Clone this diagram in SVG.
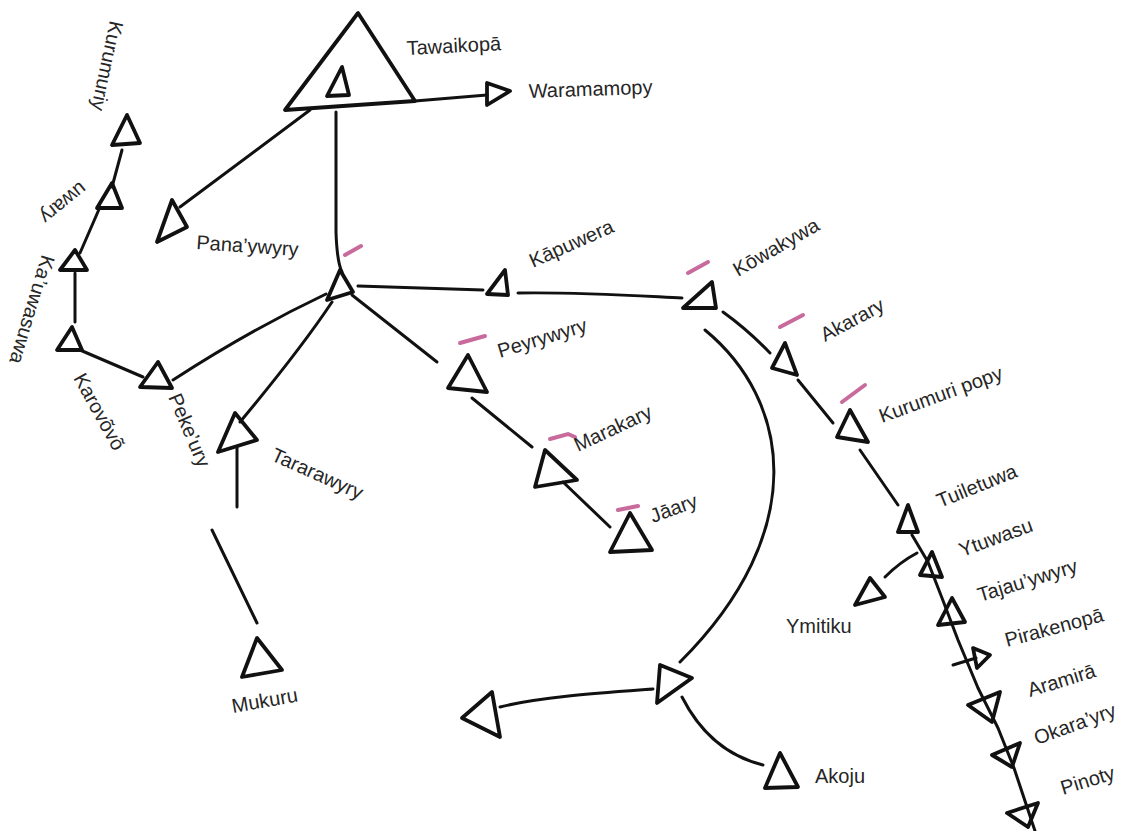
<svg xmlns="http://www.w3.org/2000/svg" width="1131" height="831" viewBox="0 0 1131 831">
<style>
.tri{fill:none;stroke:#111;stroke-width:3.8;stroke-linejoin:round;stroke-linecap:round}
.ln{fill:none;stroke:#111;stroke-width:3;stroke-linecap:round;stroke-linejoin:round}
.mk{fill:none;stroke:#c0508c;stroke-width:4;stroke-linecap:round;opacity:0.85}
text{font-family:"Liberation Sans",Arial,sans-serif;font-size:20px;fill:#262626}
</style>
<rect width="1131" height="831" fill="#ffffff"/>
<g id="connectors">
<path class="ln" d="M415,101 L487,95"/>
<path class="ln" d="M310,110 L180,207"/>
<path class="ln" d="M336,112 L336,232 Q337,262 342,272"/>
<path class="ln" d="M358,286 L483,290"/>
<path class="ln" d="M518,293 C580,292 640,296 682,298"/>
<path class="ln" d="M723,312 Q748,330 770,353"/>
<path class="ln" d="M798,380 L833,423"/>
<path class="ln" d="M860,450 L898,505"/>
<path class="ln" d="M912,535 L928,562 L942,598 L958,640 L978,688 L998,728 L1014,768 L1028,810 L1035,831"/>
<path class="ln" d="M917,553 Q900,562 885,577"/>
<path class="ln" d="M953,665 L976,658"/>
<path class="ln" d="M705,330 C790,400 812,530 680,662"/>
<path class="ln" d="M653,689 C600,693 540,697 500,707"/>
<path class="ln" d="M682,697 Q710,752 763,765"/>
<path class="ln" d="M352,295 L437,362"/>
<path class="ln" d="M472,398 L532,447"/>
<path class="ln" d="M563,482 L610,527"/>
<path class="ln" d="M332,302 Q300,350 240,422"/>
<path class="ln" d="M237,447 L237,507"/>
<path class="ln" d="M212,530 L257,623"/>
<path class="ln" d="M326,294 Q250,330 173,380"/>
<path class="ln" d="M143,377 L80,350"/>
<path class="ln" d="M75,322 L75,273"/>
<path class="ln" d="M80,253 L100,207"/>
<path class="ln" d="M112,187 L122,150"/>
</g>
<g id="marks">
<path class="mk" d="M345,255 L361,246"/>
<path class="mk" d="M460,343 L485,336"/>
<path class="mk" d="M550,439 L568,434 L575,437"/>
<path class="mk" d="M618,510 L638,506"/>
<path class="mk" d="M688,273 L708,262"/>
<path class="mk" d="M780,327 L803,315"/>
<path class="mk" d="M842,402 L865,385"/>
</g>
<g id="tawaikopa"><polygon class="tri" points="358,13 285,110 415,101"/><polygon class="tri" points="342,67 327,96 349,95"/><text transform="translate(407,55) rotate(-3)">Tawaikopā</text></g>
<g id="waramamopy"><polygon class="tri" points="487,83 487,105 510,91"/><text transform="translate(529,98) rotate(-2)">Waramamopy</text></g>
<g id="panaywyry"><polygon class="tri" points="157,242 172,200 187,227"/><text transform="translate(196,249) rotate(4)">Pana’ywyry</text></g>
<g id="center"><polygon class="tri" points="340,270 327,300 353,292"/></g>
<g id="kapuwera"><polygon class="tri" points="487,294 505,270 508,295"/><text transform="translate(533,268) rotate(-24)">Kāpuwera</text></g>
<g id="kowakywa"><polygon class="tri" points="683,308 712,282 716,308"/><text transform="translate(738,277) rotate(-30)">Kōwakywa</text></g>
<g id="akarary"><polygon class="tri" points="785,343 772,368 797,375"/><text transform="translate(825,342) rotate(-28)">Akarary</text></g>
<g id="kurumuripopy"><polygon class="tri" points="850,410 837,437 868,442"/><text transform="translate(882,423) rotate(-20)">Kurumuri popy</text></g>
<g id="tuiletuwa"><polygon class="tri" points="908,505 898,532 918,532"/><text transform="translate(940,508) rotate(-22)">Tuiletuwa</text></g>
<g id="ytuwasu"><polygon class="tri" points="932,552 920,575 942,577"/><text transform="translate(962,557) rotate(-20)">Ytuwasu</text></g>
<g id="ymitiku"><polygon class="tri" points="855,605 870,578 885,597"/><text x="786" y="633">Ymitiku</text></g>
<g id="tajauywyry"><polygon class="tri" points="952,598 938,625 965,622"/><text transform="translate(980,602) rotate(-17)">Tajau’ywyry</text></g>
<g id="pirakenopa"><polygon class="tri" points="973,648 990,655 977,668"/><text transform="translate(1007,647) rotate(-15)">Pirakenopā</text></g>
<g id="aramira"><polygon class="tri" points="968,705 1000,692 992,722"/><text transform="translate(1030,697) rotate(-17)">Aramirā</text></g>
<g id="okarayry"><polygon class="tri" points="992,755 1020,743 1012,767"/><text transform="translate(1037,745) rotate(-20)">Okara’yry</text></g>
<g id="pinoty"><polygon class="tri" points="1007,813 1038,803 1028,827"/><text transform="translate(1063,795) rotate(-17)">Pinoty</text></g>
<g id="akoju"><polygon class="tri" points="780,753 765,788 798,787"/><text x="815" y="783">Akoju</text></g>
<g id="hub"><polygon class="tri" points="660,665 692,678 657,703"/></g>
<g id="west"><polygon class="tri" points="462,718 492,692 500,737"/></g>
<g id="peyrywyry"><polygon class="tri" points="468,355 448,388 487,392"/><text transform="translate(500,358) rotate(-17)">Peyrywyry</text></g>
<g id="marakary"><polygon class="tri" points="545,450 535,487 577,480"/><text transform="translate(578,452) rotate(-25)">Marakary</text></g>
<g id="jaary"><polygon class="tri" points="630,513 610,552 652,550"/><text transform="translate(653,523) rotate(-20)">Jāary</text></g>
<g id="tararawyry"><polygon class="tri" points="235,413 218,452 257,440"/><text transform="translate(270,460) rotate(24)">Tararawyry</text></g>
<g id="mukuru"><polygon class="tri" points="257,638 242,677 282,670"/><text transform="translate(233,713) rotate(-10)">Mukuru</text></g>
<g id="pekeury"><polygon class="tri" points="158,362 140,387 172,388"/><text transform="translate(168,397) rotate(67)">Peke’ury</text></g>
<g id="karovovo"><polygon class="tri" points="72,327 57,350 82,350"/><text transform="translate(73,378) rotate(61)">Karovõvõ</text></g>
<g id="kauwasuwa"><polygon class="tri" points="75,250 60,270 87,270"/><text transform="translate(42,254) rotate(107)">Ka’uwasuwa</text></g>
<g id="uwary"><polygon class="tri" points="112,183 97,208 122,208"/><text transform="translate(80,181) rotate(141)">uwary</text></g>
<g id="kurumuriy"><polygon class="tri" points="127,115 112,145 140,143"/><text transform="translate(110,20) rotate(102)">Kurumuriy</text></g>
</svg>
